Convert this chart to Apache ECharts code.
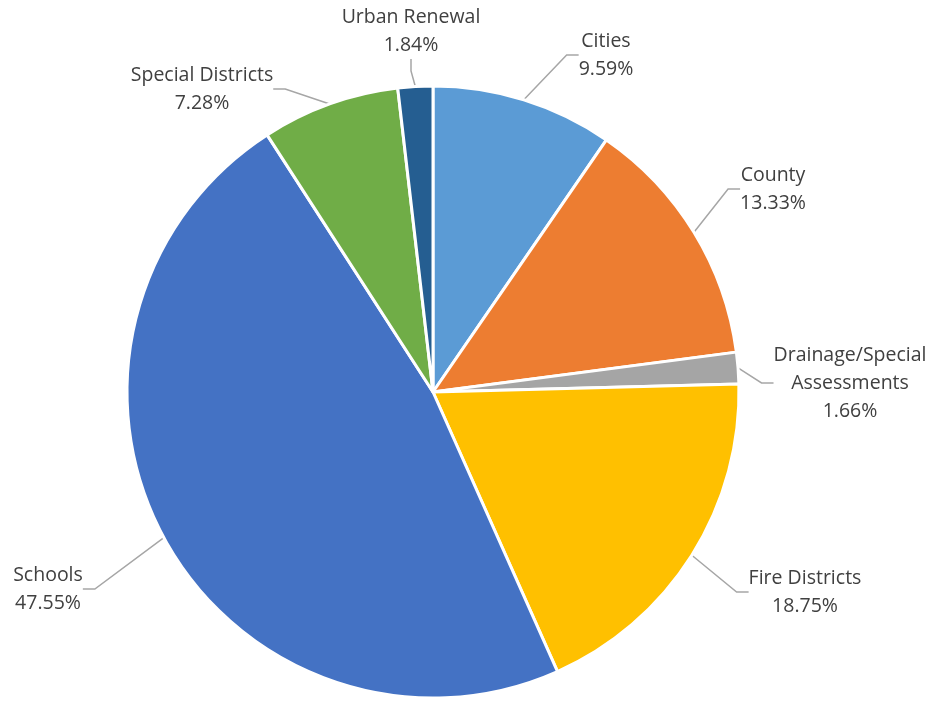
<!DOCTYPE html>
<html>
<head>
<meta charset="utf-8">
<script src="https://cdn.jsdelivr.net/npm/echarts@6/dist/echarts.min.js"></script>
<style>html,body{margin:0;padding:0;background:#fff;}#c{width:951px;height:702px;}</style>
</head>
<body>
<div id="c"></div>
<script>
const categories = ['Cities', 'County', 'Drainage/Special\nAssessments', 'Fire Districts', 'Schools', 'Special Districts', 'Urban Renewal'];
const values = [9.59, 13.33, 1.66, 18.75, 47.55, 7.28, 1.84];
const colors = ['#5B9BD5', '#ED7D31', '#A5A5A5', '#FFC000', '#4472C4', '#70AD47', '#255E91'];

// label centres (layout only)
const labelPos = [[606, 55], [773, 189], [850, 383], [805, 592], [48, 589], [202, 89], [411, 31]];

const chart = echarts.init(document.getElementById('c'));
chart.setOption({
  animation: false,
  series: [{
    type: 'pie',
    center: [433, 392],
    radius: 306,
    startAngle: 90,
    clockwise: true,
    data: categories.map((n, i) => ({ name: n, value: values[i], itemStyle: { color: colors[i] } })),
    itemStyle: { borderColor: '#fff', borderWidth: 3 },
    label: {
      show: true,
      formatter: p => p.name + '\n' + p.value.toFixed(2) + '%',
      fontFamily: 'Open Sans',
      fontSize: 19.5,
      lineHeight: 28,
      color: '#404040',
      align: 'center'
    },
    labelLine: { show: true, lineStyle: { color: '#A6A6A6', width: 1.5 }, length: 20, length2: 12 },
    labelLayout: function (params) {
      const p = labelPos[params.dataIndex];
      return { x: p[0], y: p[1], align: 'center', verticalAlign: 'middle' };
    }
  }]
});
</script>
</body>
</html>
